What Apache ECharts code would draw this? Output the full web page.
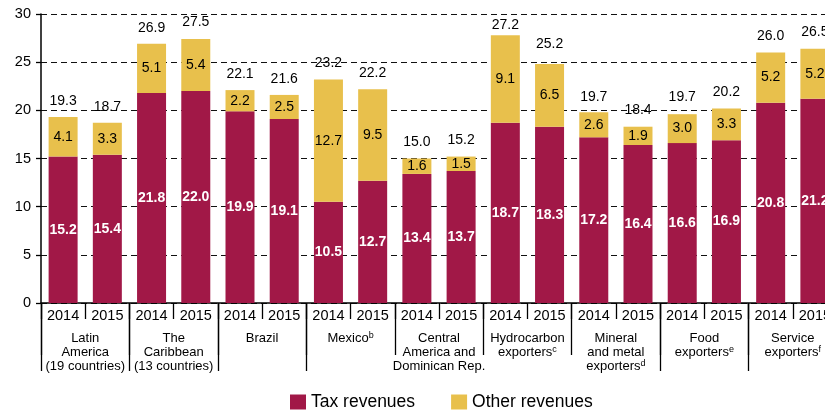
<!DOCTYPE html>
<html>
<head>
<meta charset="utf-8">
<script src="https://cdn.jsdelivr.net/npm/echarts@6/dist/echarts.min.js"></script>
<style>
  html, body { margin: 0; padding: 0; background: #fff; }
  #main { width: 825px; height: 412px; }
</style>
</head>
<body>
<div id="main"></div>
<script>
// data
var years = ['2014', '2015', '2014', '2015', '2014', '2015', '2014', '2015', '2014', '2015',
             '2014', '2015', '2014', '2015', '2014', '2015', '2014', '2015'];
var groups = [
  'Latin\nAmerica\n(19 countries)',
  'The\nCaribbean\n(13 countries)',
  'Brazil',
  'Mexico{sup|b}',
  'Central\nAmerica and\nDominican Rep.',
  'Hydrocarbon\nexporters{sup|c}',
  'Mineral\nand metal\nexporters{sup|d}',
  'Food\nexporters{sup|e}',
  'Service\nexporters{sup|f}'
];
var taxRevenues = [15.2, 15.4, 21.8, 22.0, 19.9, 19.1, 10.5, 12.7, 13.4, 13.7,
                   18.7, 18.3, 17.2, 16.4, 16.6, 16.9, 20.8, 21.2];
var otherRevenues = [4.1, 3.3, 5.1, 5.4, 2.2, 2.5, 12.7, 9.5, 1.6, 1.5,
                     9.1, 6.5, 2.6, 1.9, 3.0, 3.3, 5.2, 5.2];
var totals = [19.3, 18.7, 26.9, 27.5, 22.1, 21.6, 23.2, 22.2, 15.0, 15.2,
              27.2, 25.2, 19.7, 18.4, 19.7, 20.2, 26.0, 26.5];

var font = 'Liberation Sans, Arial, sans-serif';
var chart = echarts.init(document.getElementById('main'));
chart.setOption({
  animation: false,
  textStyle: { fontFamily: font },
  grid: { left: 41, right: -12, top: 14, bottom: 109, containLabel: false, outerBoundsMode: 'none' },
  legend: {
    data: ['Tax revenues', 'Other revenues'],
    icon: 'rect',
    itemWidth: 16,
    itemHeight: 15,
    itemGap: 36,
    padding: 0,
    left: 290,
    top: 393,
    textStyle: { fontSize: 17.5, color: '#000', fontFamily: font }
  },
  xAxis: [
    {
      type: 'category',
      data: years,
      position: 'bottom',
      axisLine: { lineStyle: { color: '#000', width: 1.5 } },
      axisTick: { show: true, interval: 0, length: 16, lineStyle: { color: '#000', width: 1.3 } },
      axisLabel: { interval: 0, fontSize: 14.5, color: '#000', margin: 5, fontFamily: font }
    },
    {
      type: 'category',
      data: groups,
      position: 'bottom',
      axisLine: { show: false },
      axisTick: { show: true, interval: 0, length: 52, lineStyle: { color: '#000', width: 1.3 } },
      axisLabel: {
        interval: 0, fontSize: 13, lineHeight: 14, color: '#000', margin: 28, fontFamily: font,
        rich: { sup: { fontSize: 9, verticalAlign: 'top', lineHeight: 14, color: '#000', fontFamily: font } }
      }
    },
    {
      type: 'category',
      data: groups,
      position: 'bottom',
      axisLine: { show: false },
      axisTick: {
        show: true, length: 68, lineStyle: { color: '#000', width: 1.3 },
        interval: function (i) { return i < 4 || i > 6; }
      },
      axisLabel: { show: false }
    }
  ],
  yAxis: {
    type: 'value',
    min: 0,
    max: 30,
    interval: 5,
    axisLine: { show: true, lineStyle: { color: '#000', width: 1.5 } },
    axisTick: { show: true, length: 5, lineStyle: { color: '#000', width: 1.3 } },
    axisLabel: { fontSize: 14.5, color: '#000', margin: 10, fontFamily: font },
    splitLine: { show: true, lineStyle: { color: '#111', width: 1, type: [6, 4] } }
  },
  series: [
    {
      name: 'Tax revenues',
      type: 'bar',
      stack: 'rev',
      barWidth: 29,
      data: taxRevenues,
      itemStyle: { color: '#A11847' },
      label: {
        show: true, position: 'inside', color: '#fff', fontWeight: 'bold',
        fontSize: 14, fontFamily: font,
        formatter: function (p) { return p.value.toFixed(1); }
      }
    },
    {
      name: 'Other revenues',
      type: 'bar',
      stack: 'rev',
      barWidth: 29,
      data: otherRevenues,
      itemStyle: { color: '#E8C04C' },
      label: {
        show: true, position: 'inside', color: '#000',
        fontSize: 14, fontFamily: font,
        formatter: function (p) { return p.value.toFixed(1); }
      }
    },
    {
      name: 'Total',
      type: 'bar',
      barWidth: 29,
      barGap: '-100%',
      z: 1,
      data: totals,
      itemStyle: { color: 'rgba(0,0,0,0)' },
      label: {
        show: true, position: 'top', distance: 9, color: '#000',
        fontSize: 14, fontFamily: font,
        formatter: function (p) { return p.value.toFixed(1); }
      }
    }
  ]
});
</script>
</body>
</html>
